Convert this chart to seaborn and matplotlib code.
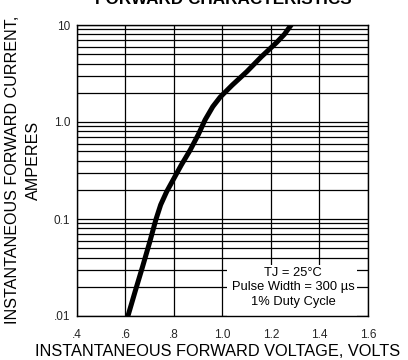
import matplotlib
matplotlib.use("Agg")
import matplotlib.pyplot as plt
import seaborn as sns
import pandas as pd
from matplotlib.patches import Rectangle

# ---- data ----
voltage = [0.610, 0.640, 0.670, 0.700, 0.725, 0.745, 0.770, 0.796, 0.830, 0.866, 0.900,
           0.928, 0.960, 0.990, 1.040, 1.100, 1.160, 1.223, 1.255, 1.283]
current = [0.010, 0.018, 0.032, 0.058, 0.098, 0.140, 0.192, 0.252, 0.360, 0.510, 0.740,
           1.050, 1.440, 1.800, 2.400, 3.300, 4.700, 6.600, 8.000, 10.00]
x_ticks = [0.4, 0.6, 0.8, 1.0, 1.2, 1.4, 1.6]
x_tick_labels = [".4", ".6", ".8", "1.0", "1.2", "1.4", "1.6"]
y_ticks = [0.01, 0.1, 1.0, 10.0]
y_tick_labels = [".01", "0.1", "1.0", "10"]
title = "FORWARD CHARACTERISTICS"
xlabel = "INSTANTANEOUS FORWARD VOLTAGE, VOLTS"
ylabel1 = "INSTANTANEOUS FORWARD CURRENT,"
ylabel2 = "AMPERES"
note_lines = ["TJ = 25°C", "Pulse Width = 300 µs", "1% Duty Cycle"]

df = pd.DataFrame({"V": voltage, "I": current})

sns.set_theme(style="white")
plt.rcParams["font.family"] = ["Liberation Sans", "DejaVu Sans"]

fig = plt.figure(figsize=(4.08, 3.60), dpi=100)
ax = fig.add_axes([77/408, 1-316/360, (368-77)/408, (316-25)/360])

sns.lineplot(data=df, x="V", y="I", ax=ax, color="black", linewidth=3.6, zorder=3)
ax.lines[0].set_solid_joinstyle("round")

ax.set_yscale("log")
ax.set_xlim(0.4, 1.6)
ax.set_ylim(0.01, 10)
ax.set_xticks(x_ticks)
ax.set_xticklabels(x_tick_labels, fontsize=8.5)
ax.set_yticks(y_ticks)
ax.set_yticklabels(y_tick_labels, fontsize=8.5)
ax.tick_params(axis="both", which="both", length=0)
ax.tick_params(axis="x", pad=9)
ax.tick_params(axis="y", pad=5)
ax.set_xlabel("")
ax.set_ylabel("")

ax.set_axisbelow(True)
ax.grid(True, axis="x", which="major", color="black", linewidth=0.9)
ax.grid(True, axis="y", which="both", color="black", linewidth=0.9)
ax.yaxis.set_minor_formatter(matplotlib.ticker.NullFormatter())
for s in ax.spines.values():
    s.set_color("black")
    s.set_linewidth(1.0)

ax.add_patch(Rectangle((0.515, 0.0), 0.447, 0.175, transform=ax.transAxes,
                       facecolor="white", edgecolor="none", zorder=1.5))
for txt, yy in zip(note_lines, [0.148, 0.099, 0.048]):
    ax.text(0.742, yy, txt, transform=ax.transAxes, ha="center", va="center",
            fontsize=9.3, color="black", zorder=4)

fig.text(223/408, 1-4.5/360, title, ha="center", va="baseline",
         fontsize=12.3, fontweight="bold", color="black")
fig.text(218/408, 1-351/360, xlabel, ha="center", va="center",
         fontsize=11.8, color="black")
fig.text(13/408, 1-170/360, ylabel1, ha="center", va="center",
         rotation=90, fontsize=11.6, color="black")
fig.text(33/408, 1-160/360, ylabel2, ha="center", va="center",
         rotation=90, fontsize=11.6, color="black")

fig.savefig("out.png", dpi=100, facecolor="white")
